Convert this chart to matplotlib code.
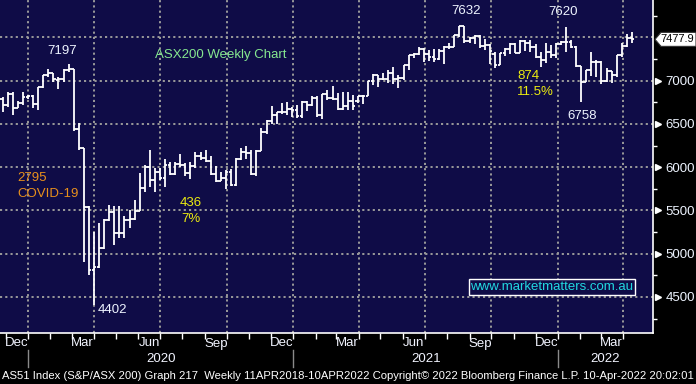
import numpy as np
import pandas as pd
import matplotlib
matplotlib.use("Agg")
import matplotlib.pyplot as plt
import matplotlib.dates as mdates
from matplotlib.patches import Polygon
from matplotlib import transforms

plt.rcParams['font.family'] = ['Liberation Sans', 'DejaVu Sans']

# weekly bars, week ending Friday
weeks = pd.date_range("2019-11-22", periods=125, freq="W-FRI")

opens = [6790, 6717, 6846, 6690, 6740, 6816, 6822, 6733, 6929, 7064,
         7090, 7010, 7022, 7125, 7139, 6441, 6217, 5539, 4816, 4842,
         5067, 5387, 5487, 5242, 5245, 5391, 5405, 5497, 5755, 6000,
         5847, 5943, 5880, 6030, 5920, 6034, 6023, 5928, 6010, 6126,
         6112, 6073, 5925, 5843, 5870, 5950, 5791, 6095, 6176, 6167,
         5927, 6190, 6405, 6539, 6601, 6633, 6643, 6676, 6665, 6587,
         6758, 6715, 6800, 6607, 6841, 6805, 6793, 6673, 6711, 6767,
         6760, 6824, 6829, 6995, 7063, 7017, 7025, 7091, 7014, 7030,
         7179, 7295, 7312, 7369, 7308, 7273, 7247, 7348, 7394, 7393,
         7523, 7628, 7460, 7489, 7522, 7403, 7417, 7310, 7182, 7320,
         7362, 7430, 7324, 7457, 7440, 7390, 7279, 7240, 7330, 7293,
         7420, 7444, 7453, 7393, 7173, 6988, 7120, 7217, 7221, 7000,
         7110, 7064, 7295, 7406, 7493]
highs = [6815, 6875, 6873, 6760, 6873, 6830, 6830, 6930, 7068, 7140,
         7090, 7040, 7130, 7197, 7140, 6515, 6217, 5546, 5246, 5350,
         5400, 5565, 5546, 5554, 5431, 5508, 5623, 5931, 6027, 6200,
         5988, 5988, 6092, 6065, 6065, 6154, 6046, 6065, 6173, 6181,
         6200, 6124, 6019, 5942, 5969, 5981, 6109, 6225, 6240, 6194,
         6194, 6457, 6550, 6705, 6636, 6744, 6756, 6698, 6717, 6760,
         6760, 6822, 6822, 6850, 6896, 6934, 6857, 6865, 6865, 6838,
         6826, 6835, 7000, 7077, 7065, 7089, 7120, 7158, 7069, 7185,
         7300, 7320, 7386, 7375, 7350, 7364, 7364, 7400, 7434, 7531,
         7630, 7632, 7500, 7531, 7531, 7481, 7420, 7330, 7320, 7376,
         7440, 7434, 7465, 7470, 7465, 7430, 7337, 7434, 7415, 7434,
         7460, 7620, 7470, 7400, 7175, 7125, 7337, 7240, 7225, 7143,
         7115, 7300, 7434, 7543, 7558]
lows = [6640, 6700, 6600, 6680, 6720, 6790, 6690, 6660, 6920, 7040,
        6990, 6900, 6990, 7100, 6420, 6200, 4900, 4758, 4402, 4840,
        5050, 5380, 5104, 5181, 5181, 5296, 5392, 5496, 5719, 5769,
        5719, 5854, 5777, 5912, 5915, 6008, 5900, 5862, 5988, 6085,
        6065, 5911, 5826, 5837, 5748, 5787, 5787, 6085, 6097, 5911,
        5903, 6182, 6388, 6504, 6504, 6620, 6601, 6581, 6574, 6574,
        6650, 6705, 6581, 6560, 6780, 6780, 6664, 6664, 6656, 6665,
        6740, 6734, 6826, 6950, 6930, 7004, 6973, 6965, 6915, 7012,
        7120, 7262, 7301, 7212, 7230, 7217, 7240, 7194, 7364, 7390,
        7510, 7440, 7434, 7430, 7376, 7357, 7194, 7150, 7182, 7290,
        7310, 7318, 7318, 7349, 7337, 7260, 7163, 7202, 7260, 7260,
        7418, 7337, 7376, 7163, 6758, 6988, 7054, 7047, 6961, 6988,
        6969, 7047, 7279, 7395, 7434]
closes = [6717, 6846, 6690, 6740, 6816, 6822, 6733, 6929, 7064, 7090,
          7017, 7022, 7125, 7139, 6441, 6217, 5539, 4816, 4842, 5067,
          5387, 5487, 5242, 5245, 5391, 5405, 5497, 5755, 6000, 5847,
          5943, 5880, 6030, 5920, 6034, 6023, 5928, 6010, 6126, 6112,
          6073, 5925, 5843, 5870, 5950, 5791, 6095, 6176, 6167, 5927,
          6190, 6405, 6539, 6601, 6633, 6643, 6676, 6665, 6587, 6758,
          6715, 6800, 6607, 6841, 6805, 6793, 6673, 6711, 6767, 6708,
          6824, 6829, 6995, 7063, 7017, 7025, 7091, 7014, 7030, 7179,
          7295, 7312, 7369, 7308, 7273, 7247, 7348, 7394, 7393, 7523,
          7628, 7460, 7489, 7522, 7403, 7417, 7342, 7182, 7320, 7362,
          7430, 7324, 7457, 7440, 7390, 7279, 7240, 7330, 7293, 7420,
          7444, 7453, 7393, 7173, 6988, 7120, 7217, 7221, 7000, 7110,
          7064, 7295, 7406, 7493, 7478]
last_price = 7477.9

# right axis labels (7500 sits under the last-price tag)
levels = [4500, 5000, 5500, 6000, 6500, 7000, 7500]
shown_labels = ["4500", "5000", "5500", "6000", "6500", "7000", ""]

bg = '#0f0c47'
grid_c = '#9a9a9a'

fig = plt.figure(figsize=(6.96, 3.84), dpi=100, facecolor='black')
W, H = 696, 384
px_right, px_bottom = 653, 333.3
ax = fig.add_axes([0, 1 - px_bottom / H, px_right / W, px_bottom / H])
ax.set_facecolor(bg)

jan1 = mdates.date2num(pd.Timestamp("2020-01-01"))
ppd = 0.725  # pixels per day
ax.set_xlim(jan1 - 28 / ppd, jan1 + (px_right - 28) / ppd)
ax.set_ylim(4080, 7933)

# bars
x = mdates.date2num(weeks) + 5
tick = 3.4
ax.vlines(x, lows, highs, color='white', lw=1.3, zorder=3)
ax.hlines(opens, x - tick, x, color='white', lw=1.3, zorder=3)
ax.hlines(closes, x, x + tick, color='white', lw=1.3, zorder=3)

# grid
for lvl in levels:
    ax.axhline(lvl, color=grid_c, lw=1.4, ls=(0, (1.1, 1.6)), zorder=1)
qstarts = pd.date_range("2020-01-01", "2022-04-01", freq="QS")
for d in qstarts:
    ax.axvline(mdates.date2num(d), color=grid_c, lw=1.4, ls=(0, (1.1, 1.6)), zorder=1)

# spines
for s in ['top', 'left']:
    ax.spines[s].set_visible(False)
ax.spines['right'].set_color('white')
ax.spines['bottom'].set_color('white')
ax.spines['right'].set_linewidth(1.2)
ax.spines['bottom'].set_linewidth(1.2)

# y axis on right
ax.yaxis.tick_right()
ax.set_yticks(levels)
ax.set_yticklabels(shown_labels)
ax.set_yticks(range(4250, 7751, 500), minor=True)
ax.tick_params(axis='y', which='major', length=0, pad=9, labelcolor='#eef4ff', labelsize=9.5)
ax.tick_params(axis='y', which='minor', length=3, width=1, color='white', direction='out')
tri = transforms.blended_transform_factory(ax.transAxes, ax.transData)
ax.plot([1 + 4.5 / px_right] * 6, levels[:-1], marker='>', ms=4.5,
        color='white', ls='none', transform=tri, clip_on=False, zorder=5)

# x axis: monthly ticks, labels drawn manually
mstarts = pd.date_range("2019-12-01", "2022-04-01", freq="MS")
ax.set_xticks(mdates.date2num(mstarts))
ax.set_xticklabels([])
ax.tick_params(axis='x', which='major', length=4, width=1, color='white', direction='out')

bx = transforms.blended_transform_factory(ax.transData, ax.transAxes)
def ay(py):
    return (px_bottom - py) / px_bottom

for d in pd.date_range("2019-12-01", "2022-03-01", freq="3MS"):
    mid = mdates.date2num(d) + 15
    ax.text(mid, ay(343.5), d.strftime('%b'), transform=bx, ha='center', va='center',
            color='#f2f4ff', fontsize=9.5, clip_on=False)

year_spans = [("2020", "2020-01-01", "2021-01-01"),
              ("2021", "2021-01-01", "2022-01-01"),
              ("2022", "2022-01-01", None)]
xmax = ax.get_xlim()[1]
for label, a, b in year_spans:
    xa = mdates.date2num(pd.Timestamp(a))
    xb = mdates.date2num(pd.Timestamp(b)) if b else xmax
    ax.text((xa + xb) / 2, ay(359), label, transform=bx, ha='center', va='center',
            color='#f2f4ff', fontsize=9.5, clip_on=False)
    ax.plot([xa, xa], [ay(350), ay(367)], transform=bx, color='#8a8a8a', lw=1, clip_on=False)

# annotations (pixel positions)
def put(px, py, s, color, ha='left', size=9.5):
    ax.text(px / px_right, ay(py), s, transform=ax.transAxes, color=color,
            fontsize=size, ha=ha, va='center', zorder=6)

white_t = '#eef4ff'
yellow_t = '#ecec10'
orange_t = '#e8901c'
put(62, 51, "7197", white_t, ha='center')
put(155, 55, "ASX200 Weekly Chart", '#86e890')
put(17, 178, "2795", orange_t)
put(17, 194, "COVID-19", orange_t)
put(98, 310, "4402", white_t)
put(180, 203, "436", yellow_t)
put(181, 219, "7%", yellow_t)
put(451, 11, "7632", white_t)
put(548, 12, "7620", white_t)
put(517, 76, "874", yellow_t)
put(517, 92, "11.5%", yellow_t)
put(567, 116, "6758", white_t)

ax.text(552 / px_right, ay(287), "www.marketmatters.com.au", transform=ax.transAxes,
        color='#22d8e0', fontsize=9.5, ha='center', va='center', zorder=6,
        bbox=dict(boxstyle='square,pad=0.15', fc=bg, ec='white', lw=1))

# last price tag
ft = transforms.blended_transform_factory(fig.transFigure, ax.transData)
hh = 7 * (7933 - 4080) / px_bottom
tag = Polygon([(655 / W, last_price), (661 / W, last_price + hh), (1.0, last_price + hh),
               (1.0, last_price - hh), (661 / W, last_price - hh)], closed=True,
              fc='white', ec='#333333', lw=0.8, transform=ft, clip_on=False, zorder=7)
ax.add_patch(tag)
ax.text(660 / W, last_price, f"{last_price:.1f}", transform=ft, color='black',
        fontsize=8, ha='left', va='center', clip_on=False, zorder=8)

fig.text(2 / W, 1 - 376 / H,
         "AS51 Index (S&P/ASX 200) Graph 217  Weekly 11APR2018-10APR2022 Copyright\u00a9 2022 Bloomberg Finance L.P. 10-Apr-2022 20:02:01",
         color='white', fontsize=8.1, ha='left', va='center')

fig.savefig("out.png", dpi=100, facecolor='black')
